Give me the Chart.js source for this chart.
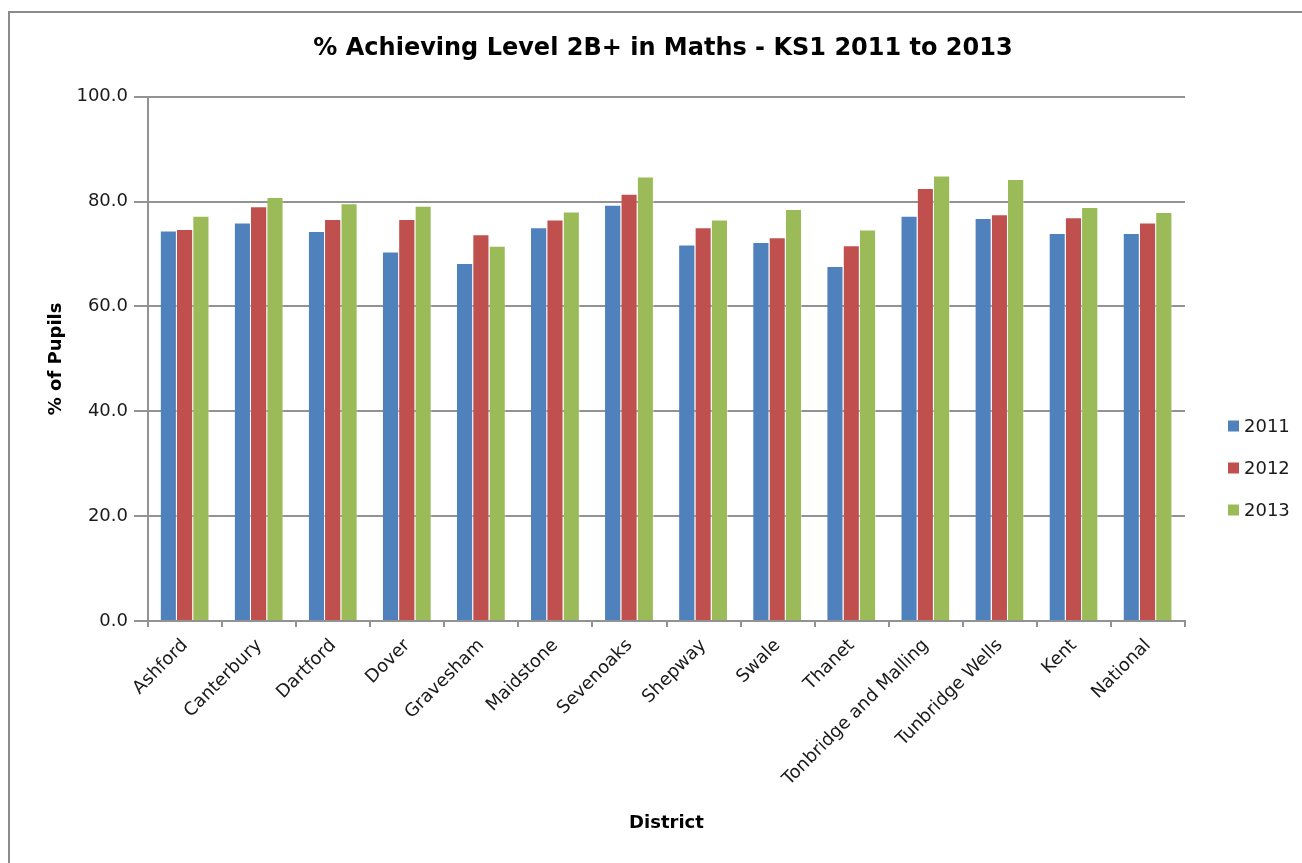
<!DOCTYPE html>
<html>
<head>
<meta charset="utf-8">
<script src="https://cdn.jsdelivr.net/npm/chart.js@4.4.1/dist/chart.umd.min.js"></script>
<style>
  html, body { margin: 0; padding: 0; background: #fff; }
  #wrap { width: 1302px; height: 863px; }
</style>
</head>
<body>
<div id="wrap"><canvas id="ks1Chart" width="1302" height="863"></canvas></div>
<script>
// districts along the x axis
const districts = ['Ashford', 'Canterbury', 'Dartford', 'Dover', 'Gravesham', 'Maidstone', 'Sevenoaks',
  'Shepway', 'Swale', 'Thanet', 'Tonbridge and Malling', 'Tunbridge Wells', 'Kent', 'National'];

// % achieving level 2B+
const y2011 = [74.5, 76.0, 74.4, 70.5, 68.3, 75.1, 79.4, 71.8, 72.3, 67.7, 77.3, 76.9, 74.0, 74.0];
const y2012 = [74.8, 79.1, 76.7, 76.7, 73.8, 76.6, 81.5, 75.1, 73.2, 71.7, 82.6, 77.6, 77.0, 76.0];
const y2013 = [77.3, 80.9, 79.7, 79.2, 71.6, 78.1, 84.8, 76.6, 78.6, 74.7, 85.0, 84.3, 79.0, 78.0];

const yearLabels = ['2011', '2012', '2013'];
const yTicks = [0, 20, 40, 60, 80, 100];

const FONT = "'DejaVu Sans', Verdana, sans-serif";
const gridCol = '#929292';

// white page with the thin grey frame (only left/top are inside the picture)
const frame = {
  id: 'frame',
  beforeDraw(chart) {
    const { ctx } = chart;
    ctx.save();
    ctx.fillStyle = '#fff';
    ctx.fillRect(0, 0, chart.width, chart.height);
    ctx.strokeStyle = '#8c8c8c';
    ctx.lineWidth = 2;
    ctx.strokeRect(9, 12, chart.width + 20, chart.height + 20);
    ctx.restore();
  },
};

// legend on the right, drawn by hand so the spacing matches
const sideLegend = {
  id: 'sideLegend',
  afterDraw(chart) {
    const { ctx } = chart;
    const midY = 468; // centre of the legend block
    ctx.save();
    ctx.font = '18px ' + FONT;
    ctx.textBaseline = 'middle';
    chart.data.datasets.forEach((ds, i) => {
      const cy = midY + (i - 1) * 42;
      ctx.fillStyle = ds.backgroundColor;
      ctx.fillRect(1228, cy - 5.5, 11, 11);
      ctx.fillStyle = '#1a1a1a';
      ctx.fillText(ds.label, 1244, cy + 1);
    });
    ctx.restore();
  },
};

const colours = ['#4F81BD', '#C0504D', '#9BBB59'];
const series = [y2011, y2012, y2013];

const data = {
  labels: districts,
  datasets: series.map((vals, i) => ({
    label: yearLabels[i],
    data: vals,
    backgroundColor: colours[i],
    borderColor: 'rgba(255,255,255,0.45)',
    borderWidth: { top: 1, right: 1, left: 0, bottom: 0 },
    borderSkipped: 'bottom',
    categoryPercentage: 0.66,
    barPercentage: 1.0,
  })),
};

const chartConfig = {
  type: 'bar',
  data,
  options: {
    responsive: false,
    animation: false,
    layout: { padding: { left: 24, right: 0, top: 0, bottom: 29 } },
    plugins: {
      legend: { display: false },
      tooltip: { enabled: false },
      title: {
        display: true,
        text: '% Achieving Level 2B+ in Maths - KS1 2011 to 2013',
        color: '#000',
        font: { family: FONT, size: 24, weight: 'bold' },
        padding: { top: 34, bottom: 34 },
      },
    },
    scales: {
      x: {
        offset: true,
        grid: { offset: true, drawOnChartArea: false, drawTicks: true, tickLength: 6, color: gridCol, lineWidth: 2 },
        border: { display: true, color: gridCol, width: 2 },
        ticks: {
          color: '#1a1a1a',
          font: { family: FONT, size: 18 },
          minRotation: 45,
          maxRotation: 45,
          autoSkip: false,
          padding: 8,
        },
        title: {
          display: true,
          text: 'District',
          color: '#000',
          font: { family: FONT, size: 18, weight: 'bold' },
          padding: { top: 0, bottom: 0 },
        },
        afterFit(scale) { scale.height = 863 - 29 - 621; },
      },
      y: {
        min: 0,
        max: 100,
        afterBuildTicks(scale) { scale.ticks = yTicks.map((v) => ({ value: v })); },
        grid: { color: gridCol, lineWidth: 2, tickLength: 14 },
        border: { display: true, color: gridCol, width: 2 },
        ticks: {
          color: '#1a1a1a',
          font: { family: FONT, size: 18 },
          padding: 6,
          callback: (v) => v.toFixed(1),
        },
        title: {
          display: true,
          text: '% of Pupils',
          color: '#000',
          font: { family: FONT, size: 18, weight: 'bold' },
          padding: { top: 22, bottom: 0 },
        },
        afterFit(scale) { scale.width = 148 - 24; },
      },
      // empty axis on the right that only keeps room for the legend
      yRight: {
        position: 'right',
        display: true,
        grid: { display: false, drawTicks: false },
        border: { display: false },
        ticks: { display: false },
        afterFit(scale) { scale.width = 1302 - 1185; },
      },
    },
  },
  plugins: [frame, sideLegend],
};

const ctx = document.getElementById('ks1Chart');
const ks1Chart = new Chart(ctx, chartConfig);
</script>
</body>
</html>
